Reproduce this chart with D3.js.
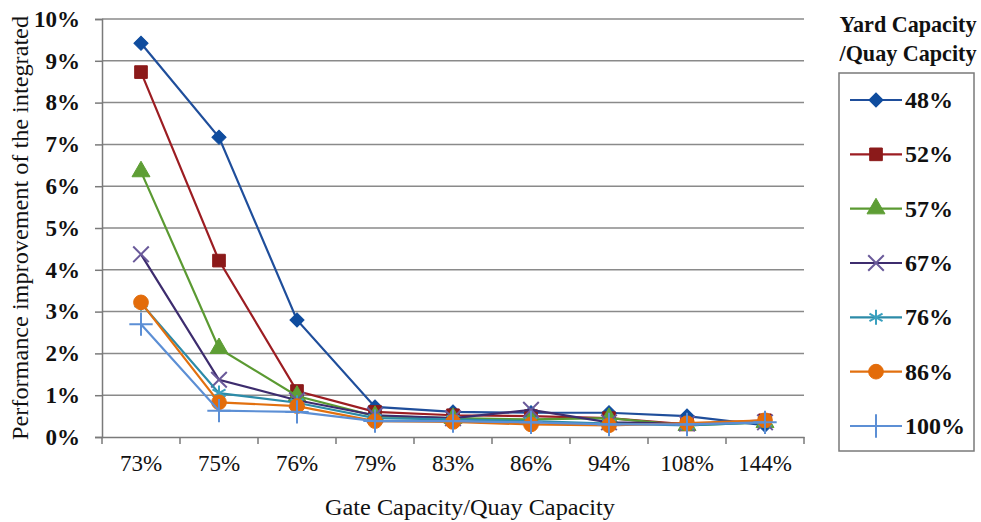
<!DOCTYPE html>
<html>
<head>
<meta charset="utf-8">
<script src="https://cdn.jsdelivr.net/npm/d3@7"></script>
<style>
  body { margin: 0; background: #fff; }
  text { font-family: "Liberation Serif", "Times New Roman", serif; fill: #111; }
</style>
</head>
<body>
<div id="chart"></div>
<script>
// gate capacity / quay capacity
var categories = ["73%", "75%", "76%", "79%", "83%", "86%", "94%", "108%", "144%"];
var seriesNames = ["48%", "52%", "57%", "67%", "76%", "86%", "100%"];
// performance improvement, percent
var s48  = [9.42, 7.17, 2.80, 0.72, 0.60, 0.58, 0.58, 0.50, 0.28];
var s52  = [8.73, 4.22, 1.10, 0.60, 0.52, 0.50, 0.45, 0.30, 0.40];
var s57  = [6.35, 2.12, 0.98, 0.50, 0.45, 0.42, 0.45, 0.28, 0.35];
var s67  = [4.37, 1.37, 0.88, 0.52, 0.45, 0.65, 0.35, 0.32, 0.35];
var s76  = [3.20, 1.05, 0.82, 0.45, 0.42, 0.38, 0.32, 0.28, 0.35];
var s86  = [3.22, 0.83, 0.74, 0.38, 0.36, 0.30, 0.28, 0.33, 0.40];
var s100 = [2.70, 0.63, 0.60, 0.38, 0.38, 0.35, 0.30, 0.30, 0.35];
var yTicks = [0, 1, 2, 3, 4, 5, 6, 7, 8, 9, 10];

var allValues = [s48, s52, s57, s67, s76, s86, s100];
var lineColors   = ["#1f4e9b", "#9c1d22", "#5b9a32", "#3d2c6e", "#2c8ba8", "#e2700f", "#5c8fd5"];
var markerColors = ["#0f4c9e", "#8b1a1a", "#5e9e35", "#6a5a9a", "#3aa0bf", "#e36c0a", "#5c8fd5"];
var markerTypes  = ["diamond", "square", "triangle", "times", "asterisk", "circle", "plus"];

var width = 981, height = 522;
var plotLeft = 102, plotRight = 804, plotTop = 19, plotBottom = 437;

var svg = d3.select("#chart").append("svg")
    .attr("width", width)
    .attr("height", height);

var x = d3.scaleBand().domain(categories).range([plotLeft, plotRight]);
var y = d3.scaleLinear().domain([0, 10]).range([plotBottom, plotTop]);

// gridlines
svg.append("g").selectAll("line")
    .data(yTicks.filter(function(d){ return d > 0; }))
    .enter().append("line")
    .attr("x1", plotLeft).attr("x2", plotRight)
    .attr("y1", function(d){ return y(d); })
    .attr("y2", function(d){ return y(d); })
    .attr("stroke", "#8a8a8a")
    .attr("stroke-width", 1.5);

// y axis
var yAxis = svg.append("g")
    .attr("transform", "translate(" + plotLeft + ",0)")
    .call(d3.axisLeft(y).tickValues(yTicks).tickSize(7).tickPadding(15)
        .tickFormat(function(d){ return d + "%"; }));
yAxis.selectAll("path, line").attr("stroke", "#7a7a7a").attr("stroke-width", 1.5);
yAxis.selectAll("text")
    .style("font-family", "Liberation Serif")
    .style("font-size", "23px")
    .style("font-weight", "bold")
    .attr("fill", "#111");

// x axis
var xAxis = svg.append("g")
    .attr("transform", "translate(0," + plotBottom + ")")
    .call(d3.axisBottom(x).tickSize(0).tickPadding(18));
xAxis.select(".domain").attr("stroke", "#7a7a7a").attr("stroke-width", 1.5);
xAxis.selectAll("text")
    .style("font-family", "Liberation Serif")
    .style("font-size", "23px")
    .attr("fill", "#111");
// tick marks between categories
xAxis.selectAll(".sep")
    .data(categories.concat(["end"]))
    .enter().append("line")
    .attr("class", "sep")
    .attr("x1", function(d, i){ return plotLeft + i * x.step(); })
    .attr("x2", function(d, i){ return plotLeft + i * x.step(); })
    .attr("y1", 0).attr("y2", 7)
    .attr("stroke", "#7a7a7a")
    .attr("stroke-width", 1.5);

// axis titles
svg.append("text")
    .attr("x", 470).attr("y", 515)
    .attr("text-anchor", "middle")
    .style("font-size", "23px")
    .attr("textLength", 290)
    .attr("lengthAdjust", "spacingAndGlyphs")
    .text("Gate Capacity/Quay Capacity");

svg.append("text")
    .attr("transform", "translate(28,228) rotate(-90)")
    .attr("text-anchor", "middle")
    .style("font-size", "23px")
    .attr("textLength", 424)
    .attr("lengthAdjust", "spacingAndGlyphs")
    .text("Performance improvement of the integrated");

function symbolFor(type) {
    if (type == "diamond") return d3.symbol().type(d3.symbolSquare).size(100);
    if (type == "square") return d3.symbol().type(d3.symbolSquare).size(160);
    if (type == "triangle") return d3.symbol().type(d3.symbolTriangle).size(140);
    if (type == "times") return d3.symbol().type(d3.symbolTimes).size(160);
    if (type == "asterisk") return d3.symbol().type(d3.symbolAsterisk).size(160);
    if (type == "circle") return d3.symbol().type(d3.symbolCircle).size(170);
    return d3.symbol().type(d3.symbolPlus).size(180);
}
var strokeTypes = ["times", "asterisk", "plus"];

function drawMarker(g, type, color, cx, cy) {
    var m = g.append("path")
        .attr("d", symbolFor(type)())
        .attr("transform", "translate(" + cx + "," + cy + ")" + (type == "diamond" ? " rotate(45)" : ""));
    if (strokeTypes.indexOf(type) >= 0) {
        m.attr("fill", "none").attr("stroke", color).attr("stroke-width", 2);
    } else {
        m.attr("fill", color).attr("stroke", color).attr("stroke-width", 1);
    }
}

var line = d3.line()
    .x(function(d, i){ return x(categories[i]) + x.bandwidth() / 2; })
    .y(function(d){ return y(d); });

allValues.forEach(function(vals, s) {
    var g = svg.append("g");
    g.append("path")
        .datum(vals)
        .attr("d", line)
        .attr("fill", "none")
        .attr("stroke", lineColors[s])
        .attr("stroke-width", 2.2);
    vals.forEach(function(v, i) {
        drawMarker(g, markerTypes[s], markerColors[s], x(categories[i]) + x.bandwidth() / 2, y(v));
    });
});

// legend
svg.append("text")
    .attr("x", 908).attr("y", 32)
    .attr("text-anchor", "middle")
    .style("font-size", "23px").style("font-weight", "bold")
    .attr("textLength", 137)
    .attr("lengthAdjust", "spacingAndGlyphs")
    .text("Yard Capacity");
svg.append("text")
    .attr("x", 908).attr("y", 61)
    .attr("text-anchor", "middle")
    .style("font-size", "23px").style("font-weight", "bold")
    .attr("textLength", 137)
    .attr("lengthAdjust", "spacingAndGlyphs")
    .text("/Quay Capcity");

svg.append("rect")
    .attr("x", 839).attr("y", 73)
    .attr("width", 135).attr("height", 378)
    .attr("fill", "none")
    .attr("stroke", "#7a7a7a")
    .attr("stroke-width", 1.5);

var legendY = d3.scalePoint().domain(seriesNames).range([100, 426]);
seriesNames.forEach(function(name, s) {
    var ly = legendY(name);
    var g = svg.append("g");
    g.append("line")
        .attr("x1", 850).attr("x2", 902)
        .attr("y1", ly).attr("y2", ly)
        .attr("stroke", lineColors[s])
        .attr("stroke-width", 2.2);
    drawMarker(g, markerTypes[s], markerColors[s], 876, ly);
    g.append("text")
        .attr("x", 905).attr("y", ly + 8)
        .style("font-size", "24px").style("font-weight", "bold")
        .text(name);
});
</script>
</body>
</html>
